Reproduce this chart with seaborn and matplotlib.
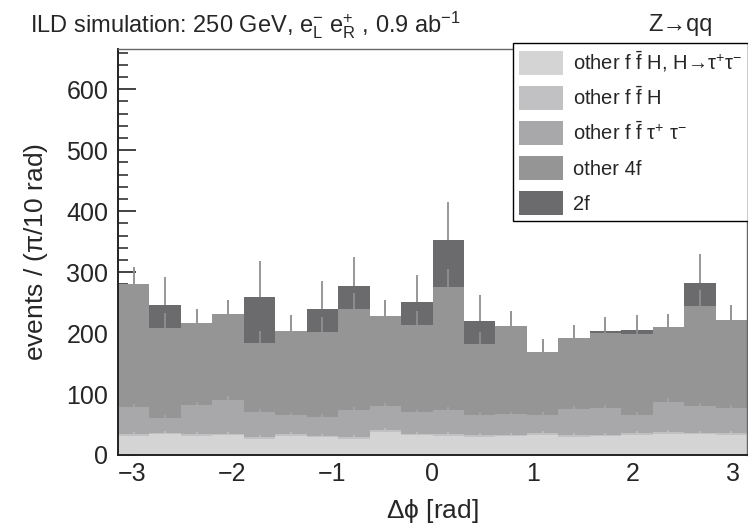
import numpy as np
import pandas as pd
import matplotlib
matplotlib.use('Agg')
import matplotlib.pyplot as plt
from matplotlib.patches import Patch
from matplotlib.ticker import MultipleLocator
import seaborn as sns

sns.set_style('ticks')
plt.rcParams['font.family'] = ['Liberation Sans', 'DejaVu Sans']
plt.rcParams['mathtext.fontset'] = 'custom'
plt.rcParams['mathtext.rm'] = 'Liberation Sans'
plt.rcParams['mathtext.it'] = 'Liberation Sans:italic'
plt.rcParams['mathtext.default'] = 'regular'

# 20 bins in delta phi between -pi and pi (pi/10 rad each)
n_bins = 20
edges = np.linspace(-np.pi, np.pi, n_bins + 1)
centers = 0.5 * (edges[:-1] + edges[1:])

# events per bin, per process
h_tautau = [31, 34, 31, 33, 27, 31, 29, 27, 38, 32, 31, 30, 31, 33, 30, 31, 33, 35, 34, 33]
ffh = [3, 2, 3, 2, 3, 3, 2, 3, 3, 2, 3, 3, 2, 3, 3, 2, 3, 3, 2, 3]
ff_tautau = [44, 25, 48, 56, 41, 31, 32, 43, 39, 36, 40, 33, 34, 30, 42, 44, 30, 49, 44, 41]
other_4f = [202, 147, 134, 140, 112, 139, 138, 166, 148, 143, 202, 116, 145, 103, 117, 123, 133, 123, 164, 144]
two_f = [0, 38, 0, 0, 77, 0, 39, 38, 0, 38, 77, 37, 0, 0, 0, 3, 6, 0, 38, 0]

# error bars (upper half visible)
err_total = [29, 46, 24, 24, 59, 25, 45, 47, 26, 45, 62, 43, 24, 21, 22, 24, 24, 22, 47, 25]
err_4f = [29, 25, 24, 24, 20, 25, 25, 26, 26, 23, 29, 20, 24, 21, 22, 23, 23, 22, 26, 25]
err_tautau = [5, 4, 5, 6, 5, 4, 4, 5, 5, 4, 5, 4, 4, 4, 5, 5, 4, 6, 5, 5]
err_light = [3, 3, 3, 3, 2, 3, 3, 2, 3, 3, 3, 3, 3, 3, 3, 3, 3, 3, 3, 3]

labels = [r'other f $\bar{f}$ H, H→$\tau^{+}\tau^{-}$',
          r'other f $\bar{f}$ H',
          r'other f $\bar{f}$ $\tau^{+}$ $\tau^{-}$',
          'other 4f',
          '2f']
colors = ['#d4d4d5', '#c1c1c3', '#a8a8aa', '#959596', '#6b6b6d']
layers = [h_tautau, ffh, ff_tautau, other_4f, two_f]

df = pd.DataFrame({
    'dphi': np.tile(centers, len(layers)),
    'process': np.repeat(labels, n_bins),
    'events': np.concatenate(layers),
})

fig = plt.figure(figsize=(7.48, 5.28), dpi=100)
ax = fig.add_axes([118 / 748, 1 - 455 / 528, 629 / 748, 406 / 528])

# seaborn stacks the last hue level at the bottom
sns.histplot(data=df, x='dphi', weights='events', hue='process',
             hue_order=labels[::-1], palette=dict(zip(labels, colors)),
             bins=list(edges), multiple='stack', element='bars', alpha=1,
             linewidth=0, antialiased=False, legend=False, ax=ax)

cum = np.cumsum(np.array(layers, dtype=float), axis=0)
zero = np.zeros(n_bins)
ax.errorbar(centers, cum[4], yerr=[zero, err_total], fmt='none', ecolor='#7c7c7e', elinewidth=1.1, capsize=0, zorder=3)
ax.errorbar(centers, cum[3], yerr=[zero, err_4f], fmt='none', ecolor=colors[3], elinewidth=1.1, capsize=0, zorder=3.1)
ax.errorbar(centers, cum[2], yerr=[zero, err_tautau], fmt='none', ecolor=colors[2], elinewidth=1.1, capsize=0, zorder=3.2)
ax.errorbar(centers, cum[1], yerr=[zero, err_light], fmt='none', ecolor=colors[1], elinewidth=1.1, capsize=0, zorder=3.3)

ax.set_xlim(-np.pi, np.pi)
ax.set_ylim(0, 666)
ax.xaxis.set_major_locator(MultipleLocator(1))
ax.xaxis.set_minor_locator(MultipleLocator(0.2))
ax.yaxis.set_major_locator(MultipleLocator(100))
ax.yaxis.set_minor_locator(MultipleLocator(20))
ax.tick_params(axis='y', which='major', direction='in', length=13, width=1.2, labelsize=18, pad=7, color='#222222')
ax.tick_params(axis='y', which='minor', direction='in', length=7, width=1.1, color='#222222')
ax.tick_params(axis='x', which='major', direction='in', length=8.5, width=1.2, labelsize=18, pad=5, color='#222222')
ax.tick_params(axis='x', which='minor', direction='in', length=4.3, width=1.1, color='#222222')
ax.tick_params(top=False, right=False, which='both')

for s in ['left', 'bottom']:
    ax.spines[s].set_color('#222222')
    ax.spines[s].set_linewidth(1.4)
for s in ['top', 'right']:
    ax.spines[s].set_color('#666666')
    ax.spines[s].set_linewidth(1.0)

ax.set_xlabel(r'$\Delta\phi$ [rad]', fontsize=19, labelpad=8)
ax.set_ylabel(r'events / ($\pi$/10 rad)', fontsize=19, labelpad=12)

fig.text(30 / 748, 1 - 25 / 528,
         r'ILD simulation: 250 GeV, $e^{-}_{L}$ $e^{+}_{R}$ , 0.9 ab$^{-1}$',
         fontsize=17, va='center', ha='left')
fig.text(648 / 748, 1 - 25 / 528, 'Z→qq', fontsize=17, va='center', ha='left')

handles = [Patch(facecolor=c, edgecolor='none') for c in colors]
leg = fig.legend(handles, labels, loc='upper left', bbox_to_anchor=(513 / 748, 1 - 43 / 528),
                 fontsize=14.5, frameon=True, fancybox=False, framealpha=1,
                 edgecolor='black', handlelength=2.2, handleheight=1.45,
                 labelspacing=0.55, handletextpad=0.5, borderpad=0.3, borderaxespad=0)
leg.get_frame().set_linewidth(1.0)

fig.savefig('out.png', dpi=100)
